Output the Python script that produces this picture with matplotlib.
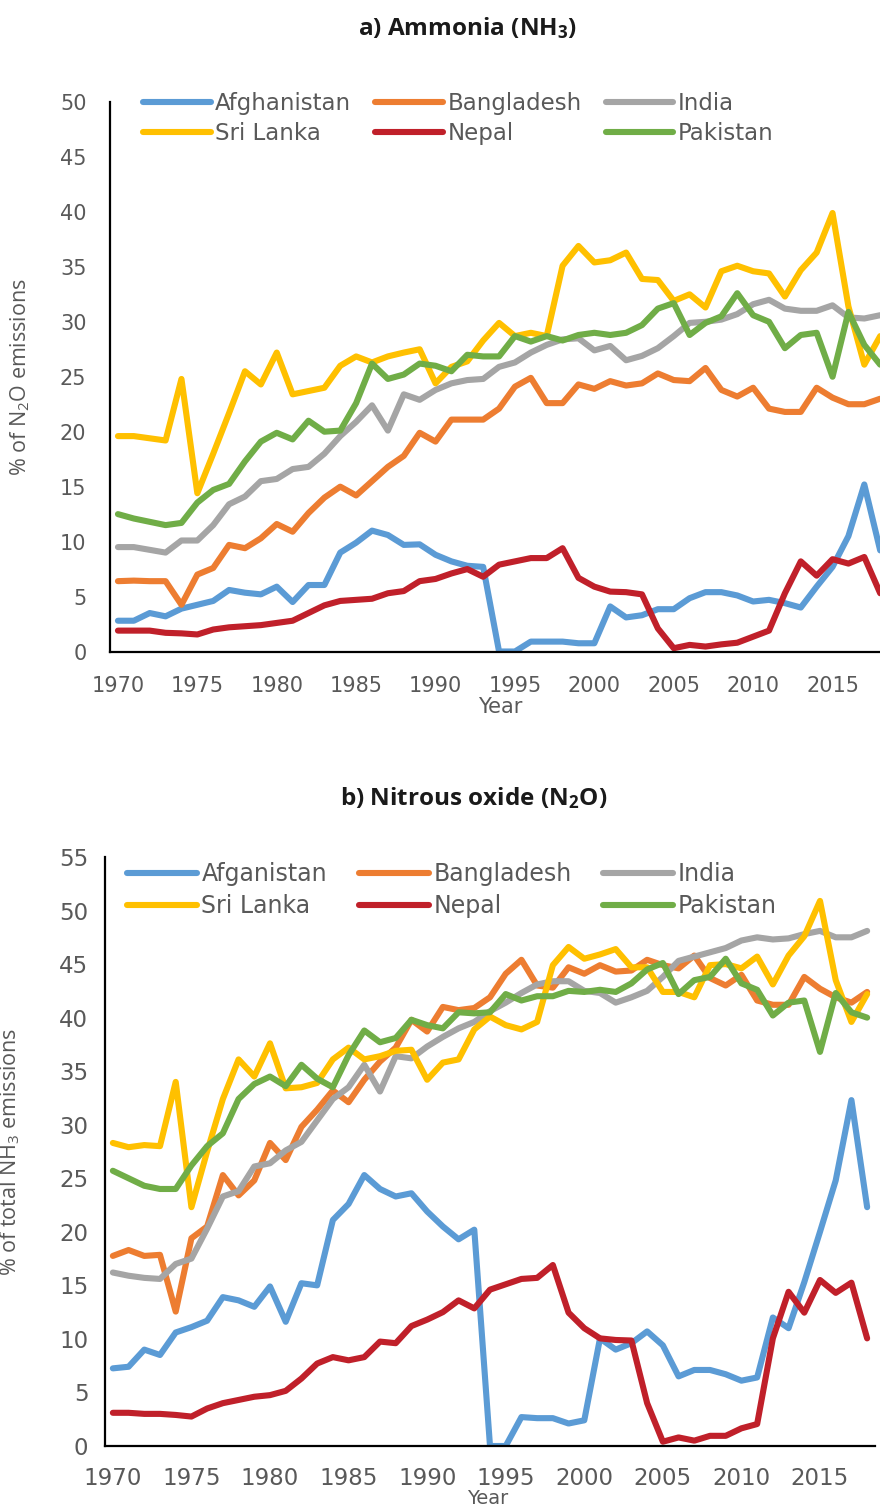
import matplotlib
matplotlib.use("Agg")
import matplotlib.pyplot as plt

plt.rcParams["font.family"] = ["DejaVu Sans"]
plt.rcParams["mathtext.default"] = "regular"

# -----------------------------
# Data
# -----------------------------
years = list(range(1970, 2019))

countries_a = ["Afghanistan", "Bangladesh", "India", "Sri Lanka", "Nepal", "Pakistan"]
countries_b = ["Afganistan", "Bangladesh", "India", "Sri Lanka", "Nepal", "Pakistan"]
colors = ["#5B9BD5", "#ED7D31", "#A5A5A5", "#FFC000", "#C0202A", "#70AD47"]

# a) Ammonia panel
afg_a = [2.8, 2.8, 3.5, 3.2, 3.9, 4.25, 4.6, 5.6, 5.35, 5.2, 5.9, 4.5, 6.05, 6.05, 9.0,
         9.9, 11.0, 10.6, 9.7, 9.75, 8.8, 8.2, 7.8, 7.7, 0.0, 0.0, 0.9, 0.9, 0.9, 0.75,
         0.75, 4.1, 3.1, 3.3, 3.85, 3.85, 4.85, 5.4, 5.4, 5.1, 4.55, 4.7, 4.4, 4.0, 5.9,
         7.7, 10.5, 15.2, 9.2]
ban_a = [6.4, 6.45, 6.4, 6.4, 4.25, 7.0, 7.6, 9.7, 9.4, 10.3, 11.6, 10.9, 12.6, 14.0, 15.0,
         14.2, 15.5, 16.8, 17.8, 19.9, 19.1, 21.1, 21.1, 21.1, 22.1, 24.1, 24.9, 22.6, 22.6, 24.3,
         23.9, 24.6, 24.2, 24.4, 25.3, 24.7, 24.6, 25.8, 23.8, 23.2, 24.0, 22.1, 21.8, 21.8, 24.0,
         23.1, 22.5, 22.5, 23.0]
ind_a = [9.5, 9.5, 9.25, 9.0, 10.1, 10.1, 11.5, 13.4, 14.1, 15.5, 15.7, 16.6, 16.8, 18.0, 19.6,
         20.9, 22.4, 20.1, 23.4, 22.9, 23.8, 24.4, 24.7, 24.8, 25.9, 26.3, 27.2, 27.9, 28.4, 28.5,
         27.4, 27.8, 26.5, 26.9, 27.6, 28.7, 29.9, 30.0, 30.2, 30.7, 31.6, 32.0, 31.2, 31.0, 31.0,
         31.5, 30.4, 30.3, 30.6]
sri_a = [19.6, 19.6, 19.4, 19.2, 24.8, 14.4, 18.0, 21.7, 25.5, 24.3, 27.2, 23.4, 23.7, 24.0, 26.0,
         26.85, 26.3, 26.85, 27.2, 27.5, 24.4, 25.9, 26.4, 28.3, 29.9, 28.7, 29.0, 28.7, 35.1, 36.9,
         35.4, 35.6, 36.3, 33.9, 33.8, 31.9, 32.5, 31.3, 34.6, 35.1, 34.6, 34.4, 32.3, 34.7, 36.3,
         39.9, 31.4, 26.1, 28.7]
nep_a = [1.9, 1.9, 1.9, 1.7, 1.65, 1.55, 2.0, 2.2, 2.3, 2.4, 2.6, 2.8, 3.5, 4.2, 4.6,
         4.7, 4.8, 5.3, 5.5, 6.4, 6.6, 7.1, 7.5, 6.8, 7.9, 8.2, 8.5, 8.5, 9.4, 6.7,
         5.9, 5.45, 5.4, 5.2, 2.1, 0.3, 0.6, 0.45, 0.65, 0.8, 1.35, 1.9, 5.3, 8.2, 6.9,
         8.4, 8.0, 8.6, 5.3]
pak_a = [12.5, 12.1, 11.8, 11.5, 11.7, 13.55, 14.7, 15.25, 17.3, 19.1, 19.9, 19.3, 21.0, 20.0, 20.1,
         22.6, 26.2, 24.8, 25.2, 26.2, 26.0, 25.5, 27.0, 26.85, 26.85, 28.7, 28.2, 28.7, 28.3, 28.8,
         29.0, 28.8, 29.0, 29.7, 31.2, 31.7, 28.8, 29.9, 30.5, 32.6, 30.6, 30.0, 27.6, 28.8, 29.0,
         25.0, 30.9, 27.9, 26.1]

# b) Nitrous oxide panel
afg_b = [7.25, 7.4, 9.0, 8.5, 10.6, 11.1, 11.7, 13.9, 13.6, 13.0, 14.9, 11.6, 15.2, 15.0, 21.1,
         22.6, 25.3, 24.0, 23.3, 23.6, 21.9, 20.5, 19.3, 20.2, 0.0, 0.0, 2.7, 2.6, 2.6, 2.1,
         2.4, 10.05, 9.0, 9.6, 10.7, 9.4, 6.5, 7.1, 7.1, 6.7, 6.1, 6.4, 12.0, 11.0, 15.3,
         20.0, 24.8, 32.3, 22.3]
ban_b = [17.75, 18.3, 17.75, 17.85, 12.55, 19.4, 20.5, 25.3, 23.4, 24.8, 28.3, 26.7, 29.8, 31.4, 33.2,
         32.1, 34.2, 35.9, 37.2, 39.8, 38.7, 41.0, 40.7, 40.9, 41.9, 44.1, 45.4, 43.0, 42.8, 44.7,
         44.1, 44.9, 44.3, 44.4, 45.4, 44.9, 44.6, 45.8, 43.7, 43.0, 44.0, 41.6, 41.2, 41.2, 43.8,
         42.7, 41.9, 41.4, 42.4]
ind_b = [16.2, 15.9, 15.7, 15.6, 17.0, 17.5, 20.3, 23.3, 23.8, 26.1, 26.4, 27.6, 28.4, 30.4, 32.4,
         33.5, 35.6, 33.1, 36.4, 36.2, 37.3, 38.2, 39.0, 39.6, 40.6, 41.4, 42.3, 43.1, 43.4, 43.4,
         42.5, 42.3, 41.4, 41.9, 42.5, 43.8, 45.3, 45.7, 46.1, 46.5, 47.2, 47.5, 47.3, 47.4, 47.8,
         48.1, 47.5, 47.5, 48.1]
sri_b = [28.3, 27.9, 28.1, 28.0, 34.0, 22.3, 27.5, 32.4, 36.1, 34.5, 37.6, 33.4, 33.5, 33.9, 36.1,
         37.2, 36.1, 36.4, 36.9, 37.0, 34.2, 35.8, 36.1, 38.9, 40.1, 39.3, 38.9, 39.6, 44.9, 46.6,
         45.5, 45.9, 46.4, 44.7, 44.7, 42.4, 42.4, 41.9, 44.9, 45.0, 44.6, 45.7, 43.1, 45.8, 47.6,
         50.9, 43.5, 39.6, 42.2]
nep_b = [3.1, 3.1, 3.0, 3.0, 2.9, 2.75, 3.5, 4.0, 4.3, 4.6, 4.75, 5.15, 6.3, 7.7, 8.3,
         8.0, 8.3, 9.75, 9.6, 11.2, 11.8, 12.5, 13.6, 12.85, 14.6, 15.1, 15.6, 15.7, 16.9, 12.45,
         11.0, 10.05, 9.9, 9.85, 4.0, 0.4, 0.8, 0.5, 0.95, 0.95, 1.65, 2.05, 10.05, 14.4, 12.45,
         15.5, 14.3, 15.25, 10.05]
pak_b = [25.7, 25.0, 24.3, 24.0, 24.0, 26.2, 28.0, 29.2, 32.4, 33.8, 34.5, 33.6, 35.6, 34.3, 33.5,
         36.5, 38.8, 37.7, 38.1, 39.8, 39.3, 39.0, 40.5, 40.4, 40.5, 42.2, 41.6, 42.0, 42.0, 42.5,
         42.4, 42.6, 42.4, 43.2, 44.5, 45.1, 42.2, 43.5, 43.8, 45.5, 43.2, 42.6, 40.2, 41.4, 41.6,
         36.8, 42.3, 40.5, 40.0]

series_a = [afg_a, ban_a, ind_a, sri_a, nep_a, pak_a]
series_b = [afg_b, ban_b, ind_b, sri_b, nep_b, pak_b]

x_ticks = list(range(1970, 2016, 5))
yticks_a = list(range(0, 51, 5))
yticks_b = list(range(0, 56, 5))

W, H = 880, 1508
TEXT_GRAY = "#595959"


def px_axes(fig, left, top, right, bottom):
    """Axes from pixel box (origin top-left)."""
    return fig.add_axes([left / W, 1 - bottom / H, (right - left) / W, (bottom - top) / H])


def style_panel(ax, series, labels, yticks, ylabel, tick_size, xpad, ypad,
                leg_size, leg_anchor, colspace, rowspace):
    lines = []
    for vals, lab, col in zip(series, labels, colors):
        ln, = ax.plot(years, vals, color=col, lw=4.4, label=lab,
                      solid_capstyle="round", solid_joinstyle="round")
        lines.append(ln)
    ax.set_xlim(1969.5, 2018.5)
    ax.set_ylim(0, yticks[-1])
    ax.set_xticks(x_ticks)
    ax.set_yticks(yticks)
    ax.tick_params(axis="both", length=0, labelsize=tick_size, labelcolor=TEXT_GRAY)
    ax.tick_params(axis="x", pad=xpad)
    ax.tick_params(axis="y", pad=ypad)
    for s in ["top", "right"]:
        ax.spines[s].set_visible(False)
    for s in ["left", "bottom"]:
        ax.spines[s].set_linewidth(1.6)
        ax.spines[s].set_color("black")
    ax.set_ylabel(ylabel, fontsize=15.5, color=TEXT_GRAY, family="Open Sans")

    # legend is filled row by row in the reference: reorder for column-major fill
    order = [0, 3, 1, 4, 2, 5]
    leg = ax.legend([lines[i] for i in order], [labels[i] for i in order],
                    ncol=3, loc="upper left", frameon=False, fontsize=leg_size,
                    bbox_to_anchor=(leg_anchor[0] / W, 1 - leg_anchor[1] / H),
                    bbox_transform=fig.transFigure, borderpad=0, borderaxespad=0,
                    handlelength=2.95, handletextpad=0.2, columnspacing=colspace,
                    labelspacing=rowspace)
    for t in leg.get_texts():
        t.set_color(TEXT_GRAY)


fig = plt.figure(figsize=(W / 100, H / 100), dpi=100)

# Panel a (right edge is cut off by the figure, as in the reference)
width_a = 49 * 15.88
ax1 = px_axes(fig, 110, 102, 110 + width_a, 651.5)
style_panel(ax1, series_a, countries_a, yticks_a, "% of N$_2$O emissions",
            15, 18, 17, 16.5, (143, 92), 1.05, 0.3)
ax1.set_xlabel("Year", fontsize=15, color=TEXT_GRAY)
ax1.xaxis.set_label_coords((500 - 110) / width_a, (651.5 - 697) / 549.5)
ax1.yaxis.set_label_coords(-(110 - 32) / width_a, 0.5)

# Panel b
ax2 = px_axes(fig, 105, 857, 875, 1446)
style_panel(ax2, series_b, countries_b, yticks_b, "% of total NH$_3$ emissions",
            16.5, 15, 12, 17, (127, 862), 1.35, 0.35)
ax2.set_xlabel("Year", fontsize=14, color=TEXT_GRAY)
ax2.xaxis.set_label_coords((488 - 105) / 770, (1446 - 1489) / 589)
ax2.yaxis.set_label_coords(-(105 - 22) / 770, 0.5)

fig.text(467 / W, 1 - 28 / H, "a) Ammonia (NH$_3$)", ha="center", va="center",
         fontsize=17.5, fontweight="bold", family="Open Sans", color="#1a1a1a")
fig.text(474 / W, 1 - 798 / H, "b) Nitrous oxide (N$_2$O)", ha="center", va="center",
         fontsize=17.5, fontweight="bold", family="Open Sans", color="#1a1a1a")

fig.savefig("out.png", dpi=100)
